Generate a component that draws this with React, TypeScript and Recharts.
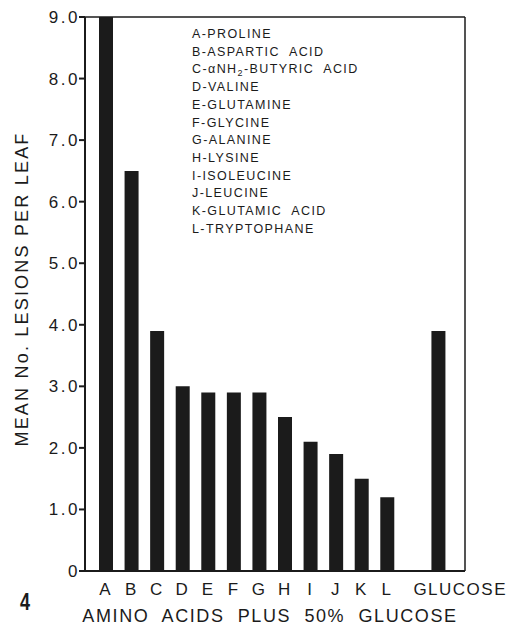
import { Bar, BarChart, XAxis, YAxis } from 'recharts'

const categories = ['A', 'B', 'C', 'D', 'E', 'F', 'G', 'H', 'I', 'J', 'K', 'L', '', 'GLUCOSE']
const lesions = [9.0, 6.5, 3.9, 3.0, 2.9, 2.9, 2.9, 2.5, 2.1, 1.9, 1.5, 1.2, null, 3.9]
const yTicks = [0, 1, 2, 3, 4, 5, 6, 7, 8, 9]
const legendLetters = ['A', 'B', 'C', 'D', 'E', 'F', 'G', 'H', 'I', 'J', 'K', 'L']
const legendNames = [
  'PROLINE',
  'ASPARTIC  ACID',
  'αNH2-BUTYRIC  ACID',
  'VALINE',
  'GLUTAMINE',
  'GLYCINE',
  'ALANINE',
  'LYSINE',
  'ISOLEUCINE',
  'LEUCINE',
  'GLUTAMIC  ACID',
  'TRYPTOPHANE',
]
const yTitle = 'MEAN No. LESIONS PER LEAF'
const xTitle = 'AMINO  ACIDS  PLUS  50%  GLUCOSE'
const figureNo = '4'

const data = categories.map((name, i) => ({ name, value: lesions[i] }))

const ink = '#1b1b1b'
const font = '"Liberation Sans", Arial, sans-serif'

// left axis: label plus the outward tick mark (tickSize 5 + tickMargin 6 from the axis)
function YTick({ x, y, payload }: any) {
  const v = payload.value as number
  return (
    <g>
      <line x1={x + 5} x2={x + 11} y1={y} y2={y} stroke={ink} strokeWidth={2} />
      <text x={x + 6} y={y} dy={6} textAnchor="end" fontSize={17} fontFamily={font} letterSpacing={2.5} fill={ink}>
        {v === 0 ? '0' : v.toFixed(1)}
      </text>
    </g>
  )
}

// right axis: only an inward tick mark
function RightTick({ x, y }: any) {
  return <line x1={x - 8} x2={x} y1={y} y2={y} stroke={ink} strokeWidth={1.5} />
}

function XTick({ x, y, payload }: any) {
  const label = payload.value as string
  const shift = label === 'GLUCOSE' ? 22 : 0
  return (
    <text x={x + shift} y={y} dy={16} textAnchor="middle" fontSize={17} fontFamily={font} letterSpacing={1.5} fill={ink}>
      {label}
    </text>
  )
}

function LegendLine({ letter, name, y }: { letter: string; name: string; y: number }) {
  const parts = name.split('NH2')
  return (
    <text x={192} y={y} fontSize={12.5} fontFamily={font} letterSpacing={1.4} fill={ink} style={{ whiteSpace: 'pre' }}>
      {letter}-
      {parts.length > 1 ? (
        <>
          {parts[0]}NH
          <tspan dy={3} fontSize={9}>2</tspan>
          <tspan dy={-3}>{parts[1]}</tspan>
        </>
      ) : (
        name
      )}
    </text>
  )
}

export default function App() {
  return (
    <div style={{ position: 'absolute', left: 0, top: 0, width: 520, height: 625, background: '#fff' }}>
      <BarChart
        width={520}
        height={625}
        data={data}
        margin={{ top: 16, right: 54, bottom: 24, left: 45 }}
        barSize={14}
      >
        <XAxis
          dataKey="name"
          height={30}
          axisLine={{ stroke: ink, strokeWidth: 2 }}
          tickLine={false}
          tick={<XTick />}
          interval={0}
          padding={{ left: 8, right: 14 }}
        />
        <XAxis
          xAxisId="top"
          dataKey="name"
          orientation="top"
          height={1}
          axisLine={{ stroke: ink, strokeWidth: 1.5 }}
          tickLine={false}
          tick={false}
        />
        <YAxis
          width={40}
          domain={[0, 9]}
          ticks={yTicks}
          interval={0}
          allowDataOverflow
          axisLine={{ stroke: ink, strokeWidth: 2 }}
          tickLine={false}
          tickSize={5}
          tickMargin={6}
          tick={<YTick />}
        />
        <YAxis
          yAxisId="right"
          orientation="right"
          width={1}
          domain={[0, 9]}
          ticks={yTicks}
          interval={0}
          axisLine={{ stroke: ink, strokeWidth: 1.5 }}
          tickLine={false}
          tickSize={0}
          tickMargin={0}
          tick={<RightTick />}
        />
        <Bar dataKey="value" fill={ink} isAnimationActive={false} />
      </BarChart>
      <svg width={520} height={625} style={{ position: 'absolute', left: 0, top: 0, pointerEvents: 'none' }}>
        {legendLetters.map((letter, i) => (
          <LegendLine key={letter} letter={letter} name={legendNames[i]} y={38 + i * 17.7} />
        ))}
        <text
          transform="translate(28, 289) rotate(-90)"
          textAnchor="middle"
          fontSize={18}
          fontFamily={font}
          letterSpacing={2.2}
          fill={ink}
          style={{ whiteSpace: 'pre' }}
        >
          {yTitle}
        </text>
        <text
          x={270}
          y={622}
          textAnchor="middle"
          fontSize={18}
          fontFamily={font}
          letterSpacing={1.6}
          fill={ink}
          style={{ whiteSpace: 'pre' }}
        >
          {xTitle}
        </text>
        <text
          transform="translate(25, 610) scale(0.75, 1)"
          textAnchor="middle"
          fontSize={24}
          fontWeight="bold"
          fontFamily={font}
          fill={ink}
        >
          {figureNo}
        </text>
      </svg>
    </div>
  )
}
